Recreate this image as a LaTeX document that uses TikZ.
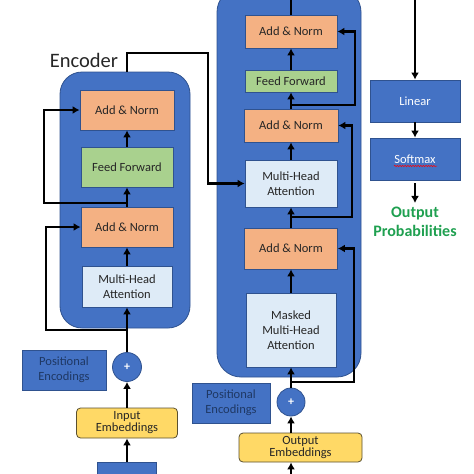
\documentclass[tikz,border=0pt]{standalone}
\usepackage{fontspec}
\setmainfont{Carlito}
\usetikzlibrary{arrows.meta,decorations.pathmorphing}
\definecolor{tblue}{HTML}{4472C4}
\definecolor{tedge}{HTML}{2F528F}
\definecolor{torange}{HTML}{F4B183}
\definecolor{tgreen}{HTML}{A9D18E}
\definecolor{tlight}{HTML}{DEEBF7}
\definecolor{tyellow}{HTML}{FFD966}
\definecolor{tbrown}{HTML}{5A5030}
\definecolor{tdark}{HTML}{262626}
\definecolor{tnavy}{HTML}{1F3864}
\definecolor{tgood}{HTML}{1FA050}
\begin{document}
\begin{tikzpicture}[x=1pt,y=-1pt,
    box/.style={draw=tedge,line width=0.8pt,inner sep=0pt,align=center,
      font=\fontsize{12.5}{15}\selectfont,text=tdark},
    addnorm/.style={box,fill=torange},
    ffbox/.style={box,fill=tgreen},
    attbox/.style={box,fill=tlight},
    bluebox/.style={box,fill=tblue},
    posbox/.style={bluebox,text=tnavy},
    embbox/.style={box,fill=tyellow,draw=tbrown,rounded corners=4pt},
    stackbox/.style={draw=tedge,line width=0.8pt,fill=tblue,inner sep=0pt},
    plusnode/.style={circle,draw=tedge,line width=0.8pt,fill=tblue,text=white,
      minimum size=29pt,inner sep=0pt,font=\large\bfseries},
    link/.style={line width=2.5pt,-{Latex[length=7pt,width=8pt]}},
    wire/.style={line width=2.5pt}]
  \clip (0,0) rectangle (474,474);
  % encoder stack
  \node[stackbox,rounded corners=22pt,minimum width=130pt,minimum height=256pt] (encoder) at (125,200) {};
  \node[addnorm,minimum width=94pt,minimum height=40pt] (encAN2) at (127,110) {Add \& Norm};
  \node[ffbox,minimum width=92pt,minimum height=40pt] (encFF) at (127,167) {Feed Forward};
  \node[addnorm,minimum width=92pt,minimum height=40pt] (encAN1) at (127,227) {Add \& Norm};
  \node[attbox,minimum width=90pt,minimum height=41pt] (encMHA) at (127,286.5) {Multi-Head\\Attention};
  \node[plusnode] (encPlus) at (127,367) {+};
  \node[posbox,minimum width=84pt,minimum height=40pt] (encPos) at (64,370) {Positional\\Encodings};
  \node[embbox,minimum width=101pt,minimum height=30pt] (inEmb) at (127,423) {Input\\[-3pt]Embeddings};
  \node[bluebox,minimum width=59pt,minimum height=32pt] (inputs) at (127,478) {};
  \node[font=\fontsize{20.5}{24}\selectfont,text=tdark] (encLabel) at (84,60) {Encoder};
  % decoder stack
  \node[stackbox,rounded corners=24pt,minimum width=144pt,minimum height=389pt] (decoder) at (289,182.5) {};
  \node[addnorm,minimum width=92pt,minimum height=33pt] (decAN3) at (291,31.5) {Add \& Norm};
  \node[ffbox,minimum width=92pt,minimum height=22pt] (decFF) at (291,81) {Feed Forward};
  \node[addnorm,minimum width=94pt,minimum height=33pt] (decAN2) at (291,125.5) {Add \& Norm};
  \node[attbox,minimum width=92pt,minimum height=47pt] (decMHA) at (291,183.5) {Multi-Head\\Attention};
  \node[addnorm,minimum width=93pt,minimum height=41pt] (decAN1) at (291,248.5) {Add \& Norm};
  \node[attbox,minimum width=90pt,minimum height=74pt] (decMMHA) at (291,330) {Masked\\Multi-Head\\Attention};
  \node[plusnode,minimum size=28pt] (decPlus) at (291,402) {+};
  \node[posbox,minimum width=78pt,minimum height=40pt] (decPos) at (231,403) {Positional\\Encodings};
  \node[embbox,minimum width=123pt,minimum height=29pt] (outEmb) at (300.5,447.5) {Output\\[-3pt]Embeddings};
  \coordinate (outsrc) at (291,480);
  % output head
  \node[bluebox,text=white,minimum width=90pt,minimum height=42pt] (linear) at (415,101) {Linear};
  \node[bluebox,text=white,minimum width=90pt,minimum height=42pt] (softmax) at (415,159) {Softmax};
  \node[font=\fontsize{16}{19}\selectfont\bfseries,text=tgood,align=center,inner sep=0pt] (outProb) at (415,222) {Output\\Probabilities};
  \draw[red,line width=0.5pt,decorate,decoration={snake,amplitude=0.7pt,segment length=2.6pt}]
    ([xshift=-21pt,yshift=-7pt]softmax.center) -- ([xshift=22pt,yshift=-7pt]softmax.center);

  % encoder flow
  \draw[link] (inputs.north) -- (inEmb.south);
  \draw[link] (inEmb.north) -- (encPlus.south);
  \draw[link] (encPlus.north) -- (encMHA.south);
  \draw[link] (encMHA.north) -- (encAN1.south);
  \draw[link] (encAN1.north) -- (encFF.south);
  \draw[link] (encFF.north) -- (encAN2.south);
  \coordinate (encSplitA) at (127,330);
  \coordinate (encSplitB) at (127,203);
  \draw[link] (encSplitA) -- (46,330) |- (encAN1.west);
  \draw[link] (encSplitB) -- (44,203) |- (encAN2.west);
  \draw[link] (encAN2 |- encoder.north) -- (127,53) -- (208,53) |- (decMHA.west);

  % decoder flow
  \draw[link] (outsrc) -- (outsrc |- outEmb.south);
  \draw[link] (decPlus |- outEmb.north) -- (decPlus.south);
  \draw[link] (decPlus.north) -- (decMMHA.south);
  \draw[link] (decMMHA.north) -- (decAN1.south);
  \draw[link] (decAN1.north) -- (decMHA.south);
  \draw[link] (decMHA.north) -- (decAN2.south);
  \draw[link] (decAN2.north) -- (decFF.south);
  \draw[link] (decFF.north) -- (decAN3.south);
  \coordinate (decSplitA) at (291,382);
  \coordinate (decSplitB) at (291,217);
  \coordinate (decSplitC) at (291,105);
  \draw[link] (decSplitA) -- (354,382) |- (decAN1.east);
  \draw[link] (decSplitB) -- (352,217) |- (decAN2.east);
  \draw[link] (decSplitC) -- (355,105) |- (decAN3.east);
  \draw[link] (decAN3.north) -- (291,-20) -| (linear.north);
  \draw[link] (linear.south) -- (softmax.north);
  \draw[link,shorten <=3pt,shorten >=4pt] (softmax.south) -- (outProb.north);
\end{tikzpicture}
\end{document}
